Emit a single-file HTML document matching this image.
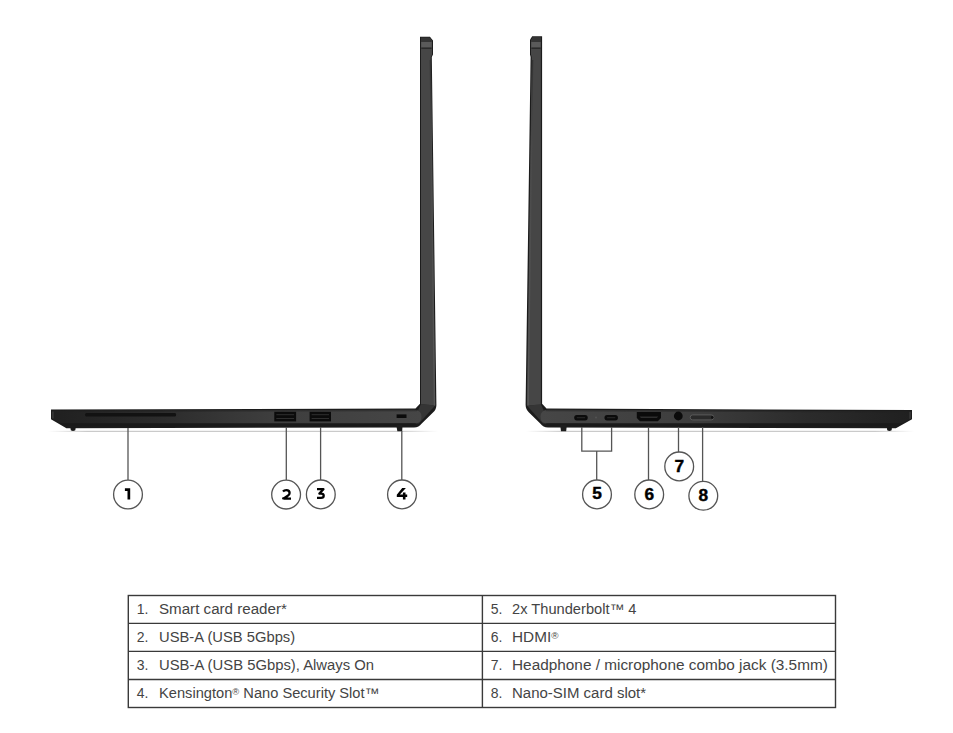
<!DOCTYPE html>
<html><head><meta charset="utf-8">
<style>
html,body{margin:0;padding:0;background:#fff;}
body{width:953px;height:733px;position:relative;overflow:hidden;font-family:"Liberation Sans",sans-serif;}
svg{position:absolute;left:0;top:0;}
.t{position:absolute;white-space:nowrap;font-size:14px;line-height:16px;color:#444;transform-origin:0 0;}
.n{position:absolute;white-space:nowrap;font-size:14px;line-height:16px;color:#444;}
sup{font-size:9px;vertical-align:top;position:relative;top:-1px;}
</style></head><body>
<svg width="953" height="733" viewBox="0 0 953 733">
<defs>
<linearGradient id="gL" x1="0" x2="1" y1="0" y2="0">
<stop offset="0" stop-color="#202020"/><stop offset="0.3" stop-color="#2c2c2c"/><stop offset="0.6" stop-color="#3e3e3e"/><stop offset="1" stop-color="#464646"/>
</linearGradient>
<linearGradient id="gR" x1="1" x2="0" y1="0" y2="0">
<stop offset="0" stop-color="#202020"/><stop offset="0.3" stop-color="#2c2c2c"/><stop offset="0.6" stop-color="#3e3e3e"/><stop offset="1" stop-color="#464646"/>
</linearGradient>
<linearGradient id="gl1" gradientUnits="userSpaceOnUse" x1="48" x2="438" y1="0" y2="0">
<stop offset="0" stop-color="#fff"/><stop offset="0.1" stop-color="#c4c4c4"/><stop offset="0.9" stop-color="#c4c4c4"/><stop offset="1" stop-color="#fff"/>
</linearGradient>
<linearGradient id="gl2" gradientUnits="userSpaceOnUse" x1="526" x2="914" y1="0" y2="0">
<stop offset="0" stop-color="#fff"/><stop offset="0.1" stop-color="#c4c4c4"/><stop offset="0.9" stop-color="#c4c4c4"/><stop offset="1" stop-color="#fff"/>
</linearGradient>
<linearGradient id="lsL" x1="0" x2="0" y1="0" y2="1"><stop offset="0" stop-color="#333"/><stop offset="0.25" stop-color="#4a4a4a"/><stop offset="1" stop-color="#575757"/></linearGradient>
</defs>
<!-- ground lines -->
<rect x="48" y="430.8" width="390" height="1.1" fill="url(#gl1)"/>
<rect x="526" y="430.8" width="388" height="1.1" fill="url(#gl2)"/>

<!-- LEFT LAPTOP -->
<path d="M51,409.6 L415.5,408.6 L420,403.7 L420,36.8 L430,36.8 L431.5,38.8 L433,40.5 L433,54.5 L431.8,57 L436.4,405 Q436.4,409.5 433,412.5 L421.5,423.8 Q419,427.4 414,427.4 L66.4,428.3 L51,419.2 Z" fill="#1c1c1c"/>
<path d="M421,404 L435.2,405.5 L419,423.4 L412,423.4 Z" fill="#353535"/>
<path d="M52.2,410.8 L414,409.8 Q421.5,410.2 421.5,416.8 Q421.5,423.4 414,423.6 L66.8,426.6 L52.2,418.4 Z" fill="url(#gL)"/>
<path d="M421,37.8 L429.8,37.8 L431.6,40.4 L432,40.8 L432,54.5 L430.8,57.2 L435.2,405.5 L421,404 Z" fill="#464646"/>
<path d="M421,37.8 L429.8,37.8 L431.6,40.4 L431.6,42 L421,42 Z" fill="#343434"/>
<path d="M421.3,42 L431.6,42 L431.6,47.5 L421.3,47.5 Z" fill="#5a5a5a"/>
<path d="M421.3,47.5 L431.6,47.5 L431.6,49 L421.3,49 Z" fill="#2a2a2a"/>
<path d="M431,60 L435.2,405.5 L433.8,405.5 L429.6,60 Z" fill="url(#lsL)"/>
<path d="M52.2,410.8 L417,409.8 L417,411.2 L52.2,412 Z" fill="#222" opacity="0.5"/>
<path d="M60,423.2 L416,423.2 L414.5,425.8 L66.8,426.6 Z" fill="#1a1a1a"/>
<rect x="52" y="411.5" width="1.8" height="7" fill="#3a3a3a" opacity="0.8"/>
<!-- feet -->
<path d="M70.3,427 L75.8,427 L75.3,430.2 Q73,431.8 70.8,430.2 Z" fill="#1a1a1a"/>
<path d="M396.2,425 L402.6,425 L402.2,431.3 L397.4,431.3 Z" fill="#1d1d1d"/>
<!-- card slot -->
<rect x="85.2" y="413.1" width="90.8" height="3.3" rx="1.2" fill="#121212"/>
<!-- usb-a -->
<rect x="274.3" y="411.8" width="21.8" height="9.6" fill="#0b0b0b"/>
<rect x="276.3" y="414.2" width="17.8" height="1" fill="#2e2e2e"/>
<rect x="276.3" y="418" width="17.8" height="1" fill="#2e2e2e"/>
<rect x="309.6" y="411.8" width="21.4" height="9.6" fill="#0b0b0b"/>
<rect x="311.6" y="414.2" width="17.4" height="1" fill="#2e2e2e"/>
<rect x="311.6" y="418" width="17.4" height="1" fill="#2e2e2e"/>
<!-- kensington -->
<rect x="396.6" y="414.4" width="9.9" height="3.6" fill="#0b0b0b"/>

<!-- RIGHT LAPTOP -->
<path d="M912,410 L546.5,408.6 L542.1,403.7 L542.1,36.3 L532.2,36.3 L530.6,38.8 L530,40 L530,54.6 L530.6,57 L525.6,404.8 Q525.6,409.3 529,412.5 L540.5,423.8 Q543,427.4 548,427.4 L895.9,428.3 L912,419.2 Z" fill="#1c1c1c"/>
<path d="M540.9,404.5 L526.9,405.5 L543,423.4 L550,423.4 Z" fill="#353535"/>
<path d="M910.8,411.2 L548,409.8 Q540.5,410.2 540.5,416.8 Q540.5,423.4 548,423.6 L895.6,426.6 L910.8,418.4 Z" fill="url(#gR)"/>
<path d="M540.9,37.5 L532.6,37.5 L531.2,40 L531,40.6 L531,54.6 L531.8,57.2 L526.9,405.5 L540.9,404.5 Z" fill="#464646"/>
<path d="M540.9,37.5 L532.6,37.5 L531.2,40 L531.2,42 L540.9,42 Z" fill="#343434"/>
<path d="M540.6,42 L531.4,42 L531.4,47.5 L540.6,47.5 Z" fill="#5a5a5a"/>
<path d="M540.6,47.5 L531.4,47.5 L531.4,49 L540.6,49 Z" fill="#2a2a2a"/>
<path d="M527.4,405.5 L531.9,60 L533.3,60 L528.8,405.5 Z" fill="url(#lsL)"/>
<path d="M910.8,411.2 L545.8,409.8 L545.8,411.2 L910.8,412.4 Z" fill="#222" opacity="0.5"/>
<path d="M903,423.2 L546,423.2 L547.5,425.8 L895.6,426.6 Z" fill="#1a1a1a"/>
<path d="M560.2,425 L566.8,425 L566.2,431.3 L561,431.3 Z" fill="#1d1d1d"/>
<path d="M886.8,427 L892,427 L891.6,430.2 Q889.4,431.8 887.2,430.2 Z" fill="#1a1a1a"/>
<rect x="909.2" y="411.8" width="1.8" height="7" fill="#3a3a3a" opacity="0.8"/>
<!-- usb-c -->
<rect x="574.2" y="415.1" width="13.5" height="5.3" rx="2.6" fill="#0b0b0b"/>
<rect x="576.8" y="417.3" width="8.3" height="0.9" fill="#2e2e2e"/>
<rect x="604.5" y="415.1" width="13.4" height="5.3" rx="2.6" fill="#0b0b0b"/>
<rect x="607.1" y="417.3" width="8.2" height="0.9" fill="#2e2e2e"/>
<circle cx="596" cy="417.5" r="0.9" fill="#555"/>
<!-- hdmi -->
<path d="M636.8,412 L661,412 L661,418 L657.8,421.2 L640,421.2 L636.8,418 Z" fill="#0b0b0b"/>
<path d="M639.5,416.4 L658.3,416.4 L656.8,418 L641,418 Z" fill="#2e2e2e"/>
<!-- audio -->
<circle cx="678.3" cy="416" r="4.4" fill="#0b0b0b"/>
<!-- sim -->
<rect x="690.2" y="414.9" width="23.6" height="5" rx="2.5" fill="#2a2a2a" stroke="#5a5a5a" stroke-width="1"/>
<circle cx="712.3" cy="417.4" r="1.3" fill="#111"/>

<!-- leader lines -->
<g stroke="#555" stroke-width="1.3" fill="none">
<line x1="128" y1="428" x2="128" y2="480.3"/>
<line x1="286.3" y1="427" x2="286.3" y2="480"/>
<line x1="320.6" y1="427" x2="320.6" y2="480"/>
<line x1="401.8" y1="431" x2="401.8" y2="480"/>
<path d="M581.8,427 L581.8,451.1 L611.6,451.1 L611.6,427"/>
<line x1="596.7" y1="451.1" x2="596.7" y2="480.2"/>
<line x1="648.5" y1="427" x2="648.5" y2="480.2"/>
<line x1="678.5" y1="427" x2="678.5" y2="452"/>
<line x1="702.6" y1="427" x2="702.6" y2="481"/>
</g>
<!-- circles -->
<g stroke="#555" stroke-width="1.3" fill="#fff">
<circle cx="128" cy="494.5" r="14.4"/>
<circle cx="286.1" cy="494.6" r="14.4"/>
<circle cx="320.8" cy="494.4" r="14.4"/>
<circle cx="402" cy="494.4" r="14.4"/>
<circle cx="597" cy="494.4" r="14.4"/>
<circle cx="649.2" cy="494.4" r="14.4"/>
<circle cx="679.2" cy="466.4" r="14.4"/>
<circle cx="703.3" cy="495.8" r="14.4"/>
</g>
<g font-family="Liberation Sans" font-weight="bold" font-size="16" fill="#000" stroke="#000" stroke-width="0.4" text-anchor="middle">
<text transform="translate(597.0,0) scale(1.08,1)" x="0" y="499.4">5</text>
<text transform="translate(649.2,0) scale(1.08,1)" x="0" y="499.6">6</text>
<text transform="translate(679.2,0) scale(1.08,1)" x="0" y="472.0">7</text>
<text transform="translate(703.3,0) scale(1.08,1)" x="0" y="501.2">8</text>
</g>

<path d="M124.9,488.2 L130.2,488.2 L130.2,499.6 L127.5,499.6 L127.5,490.9 L124.9,490.9 Z" fill="#000"/>
<path d="M402.2,488.1 L405.9,488.1 L399.9,494.6 L402.9,494.6 L402.9,492.4 L405.5,492.4 L405.5,494.6 L407.2,494.6 L407.2,497 L405.5,497 L405.5,499.4 L402.9,499.4 L402.9,497 L396.8,497 L396.8,494.7 Z" fill="#000"/>
<path d="M317,489.2 L323.4,489.2 L319.4,493.6 L321,493.6 Q323.7,493.6 323.7,495.7 Q323.7,497.8 321,497.8 L317,497.8" stroke="#000" stroke-width="2.3" fill="none" stroke-linejoin="round"/>
<path d="M283,491.6 Q284.2,490.2 286.3,490.2 Q289.6,490.2 289.6,492.9 Q289.6,494.3 287.8,495.7 L283.4,498.7 L291,498.7" stroke="#000" stroke-width="2.3" fill="none" stroke-linejoin="bevel" stroke-linecap="butt"/><path d="M282.1,499.85 L282.1,497.6 L284.2,497.6 Z" fill="#000"/>
<!-- table -->
<g stroke="#3a3a3a" stroke-width="1.4" fill="none">
<rect x="128.3" y="595.5" width="707.2" height="112"/>
<line x1="482.4" y1="595.5" x2="482.4" y2="707.5"/>
<line x1="128.3" y1="623.4" x2="835.5" y2="623.4"/>
<line x1="128.3" y1="651.4" x2="835.5" y2="651.4"/>
<line x1="128.3" y1="679.5" x2="835.5" y2="679.5"/>
</g>
</svg>

<div class="n" style="left:136.7px;top:601px">1.</div>
<div class="n" style="left:136.7px;top:629px">2.</div>
<div class="n" style="left:136.7px;top:657px">3.</div>
<div class="n" style="left:136.7px;top:685px">4.</div>
<div class="n" style="left:490.7px;top:601px">5.</div>
<div class="n" style="left:490.7px;top:629px">6.</div>
<div class="n" style="left:490.7px;top:657px">7.</div>
<div class="n" style="left:490.7px;top:685px">8.</div>

<div class="t" id="a1" style="left:159.0px;top:601px;transform:scaleX(1.081)">Smart card reader*</div>
<div class="t" id="a2" style="left:159.0px;top:629px;transform:scaleX(1.054)">USB-A (USB 5Gbps)</div>
<div class="t" id="a3" style="left:159.0px;top:657px;transform:scaleX(1.059)">USB-A (USB 5Gbps), Always On</div>
<div class="t" id="a4" style="left:159.0px;top:685px;transform:scaleX(1.046)">Kensington<sup>®</sup> Nano Security Slot™</div>
<div class="t" id="b1" style="left:512.4px;top:601px;transform:scaleX(1.047)">2x Thunderbolt™ 4</div>
<div class="t" id="b2" style="left:512.4px;top:629px;transform:scaleX(1.095)">HDMI<sup>®</sup></div>
<div class="t" id="b3" style="left:512.4px;top:657px;transform:scaleX(1.097)">Headphone / microphone combo jack (3.5mm)</div>
<div class="t" id="b4" style="left:512.4px;top:685px;transform:scaleX(1.070)">Nano-SIM card slot*</div>
</body></html>
